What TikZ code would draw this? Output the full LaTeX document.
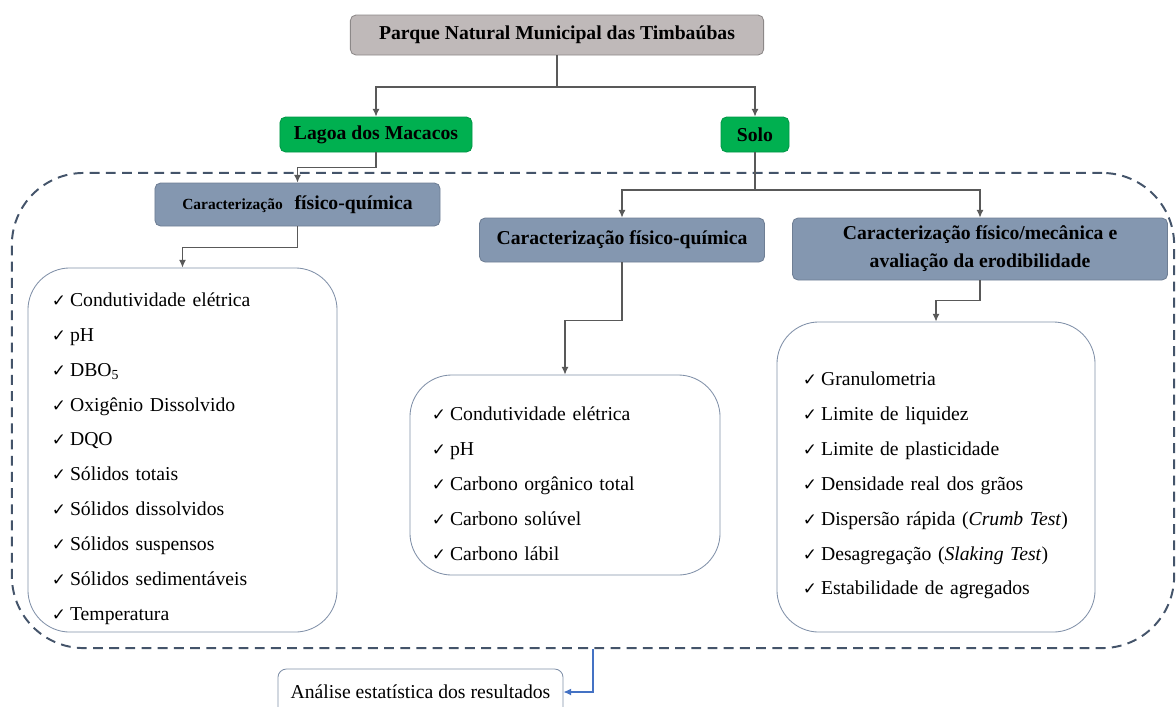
\documentclass[tikz,border=0pt]{standalone}
\usepackage{fontspec}
\setmainfont{Liberation Serif}
\newfontfamily\checkfont{DejaVu Sans}
\usetikzlibrary{arrows.meta}
\definecolor{boxgray}{RGB}{191,185,185}
\definecolor{boxgrayline}{RGB}{140,136,136}
\definecolor{placegreen}{RGB}{0,176,80}
\definecolor{greenline}{RGB}{0,150,70}
\definecolor{slate}{RGB}{132,151,176}
\definecolor{slateline}{RGB}{110,126,148}
\definecolor{listline}{RGB}{128,144,168}
\definecolor{framecol}{RGB}{68,84,106}
\definecolor{linkgray}{RGB}{89,89,89}
\definecolor{linkblue}{RGB}{68,114,196}
\newcommand{\chk}{{\checkfont\fontsize{12}{12}\selectfont ✓}\hspace{0.2em}}
\newcommand{\topstrut}{\rule{0pt}{22pt}}

\begin{document}
\begin{tikzpicture}[%
    x=0.025cm,
    y=-0.025cm,
    head/.style={
      rectangle,
      rounded corners=4pt,
      draw=boxgrayline,
      fill=boxgray,
      line width=0.6pt,
      align=center,
      inner sep=2pt,
      font=\fontsize{14}{20}\selectfont\bfseries
    },
    place/.style={head, draw=greenline, fill=placegreen},
    task/.style={head, draw=slateline, fill=slate},
    listbox/.style={
      rectangle,
      rounded corners=1.05cm,
      draw=listline,
      line width=0.6pt,
      align=left,
      font=\fontsize{14}{24.8}\selectfont
    },
    group/.style={
      rectangle,
      rounded corners=1.8cm,
      draw=framecol,
      line width=1.4pt,
      dash pattern=on 7pt off 4.5pt
    },
    link/.style={draw=linkgray, line width=0.8pt, ->},
    >={Latex[length=5.5pt,width=5pt]}
    ]
    \useasboundingbox (0,0) rectangle (1176,706);

    \draw (593,410.5) node[group, minimum width=29.05cm, minimum height=11.875cm] (frame) {};

    \draw (557,35) node[head, minimum width=10.33cm, minimum height=1cm] (parque) {Parque Natural Municipal das Timbaúbas};
    \draw (376,134.5) node[place, minimum width=4.8cm, minimum height=0.875cm] (lagoa) {Lagoa dos Macacos};
    \draw (755,134.5) node[place, minimum width=1.7cm, minimum height=0.875cm] (solo) {Solo};

    \draw (297.5,204.5) node[task, minimum width=7.125cm, minimum height=1.075cm] (caragua) {{\fontsize{11}{13}\selectfont Caracterização}\hspace{0.6em}físico-química};
    \draw (622,240) node[task, minimum width=7.125cm, minimum height=1.1cm] (carsolo) {Caracterização físico-química};
    \draw (980,249) node[task, minimum width=9.375cm, minimum height=1.55cm] (carmec) {Caracterização físico/mecânica e\\avaliação da erodibilidade};

    \draw (182.5,450) node[listbox, minimum width=7.725cm, minimum height=9.1cm, text width=6.525cm] (listagua) {\topstrut\chk Condutividade elétrica\\
      \chk pH\\
      \chk DBO\textsubscript{5}\\
      \chk Oxigênio Dissolvido\\
      \chk DQO\\
      \chk Sólidos totais\\
      \chk Sólidos dissolvidos\\
      \chk Sólidos suspensos\\
      \chk Sólidos sedimentáveis\\
      \chk Temperatura};
    \draw (565,475) node[listbox, minimum width=7.75cm, minimum height=5cm, text width=6.65cm] (listsolo) {\topstrut\chk Condutividade elétrica\\
      \chk pH\\
      \chk Carbono orgânico total\\
      \chk Carbono solúvel\\
      \chk Carbono lábil};
    \draw (936,477) node[listbox, minimum width=7.95cm, minimum height=7.75cm, text width=6.65cm] (listmec) {\topstrut\chk Granulometria\\
      \chk Limite de liquidez\\
      \chk Limite de plasticidade\\
      \chk Densidade real dos grãos\\
      \chk Dispersão rápida (\textit{Crumb Test})\\
      \chk Desagregação (\textit{Slaking Test})\\
      \chk Estabilidade de agregados};

    \draw (420.5,692) node[listbox, rounded corners=6pt, align=center, minimum width=7.125cm, minimum height=1.15cm] (analise) {Análise estatística dos resultados};

    \coordinate (fork1) at (557,87);
    \coordinate (fork2) at (755,190);

    \draw[link] (parque.south) -- (fork1) -| (lagoa.north);
    \draw[link] (fork1) -| (solo.north);
    \draw[link] (lagoa.south) -- ++(0,15) -| (caragua.north);
    \draw[link] (solo.south) -- (fork2) -| (carsolo.north);
    \draw[link] (fork2) -| (carmec.north);
    \draw[link] (caragua.south) -- ++(0,21) -| (listagua.north);
    \draw[link] (carsolo.south) -- ++(0,58) -| (listsolo.north);
    \draw[link] (carmec.south) -- ++(0,20) -| (listmec.north);
    \draw[link, draw=linkblue] (frame.south) |- (analise.east);
  \end{tikzpicture}
\end{document}
